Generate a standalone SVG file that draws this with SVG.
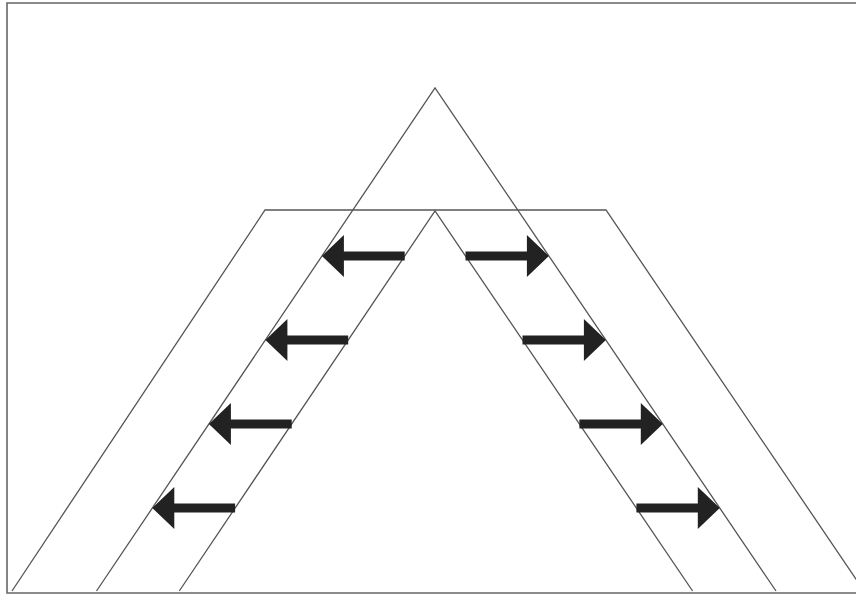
<svg xmlns="http://www.w3.org/2000/svg" width="856" height="596" viewBox="0 0 856 596">
<style>
.ln{stroke:#555;stroke-width:1.3;fill:none}
.fr{stroke:#666;stroke-width:1.6;fill:none}
.ar{fill:#222;stroke:none}
</style>
<rect width="856" height="596" fill="#fff"/>
<g id="frame">
<polyline class="fr" points="856,3 7,3 7,593 856,593"/>
</g>
<g id="shapes">
<polyline class="ln" points="96.5,591 435,88 776,591"/>
<polyline class="ln" points="179.3,591 435,211 692.6,591"/>
<polyline class="ln" points="12,591 265,210 606,210 864,591"/>
</g>
<g id="arrows">
<polygon class="ar" points="321.9,256 343.9,235 343.9,251.5 404.7,251.5 404.7,260.5 343.9,260.5 343.9,277"/>
<polygon class="ar" points="265.4,340 287.4,319 287.4,335.5 348.2,335.5 348.2,344.5 287.4,344.5 287.4,361"/>
<polygon class="ar" points="208.9,424 230.9,403 230.9,419.5 291.7,419.5 291.7,428.5 230.9,428.5 230.9,445"/>
<polygon class="ar" points="152.3,508 174.3,487 174.3,503.5 235.1,503.5 235.1,512.5 174.3,512.5 174.3,529"/>
<polygon class="ar" points="548.9,256 526.9,235 526.9,251.5 465.5,251.5 465.5,260.5 526.9,260.5 526.9,277"/>
<polygon class="ar" points="605.9,340 583.9,319 583.9,335.5 522.5,335.5 522.5,344.5 583.9,344.5 583.9,361"/>
<polygon class="ar" points="662.8,424 640.8,403 640.8,419.5 579.4,419.5 579.4,428.5 640.8,428.5 640.8,445"/>
<polygon class="ar" points="719.8,508 697.8,487 697.8,503.5 636.4,503.5 636.4,512.5 697.8,512.5 697.8,529"/>
</g>
</svg>
